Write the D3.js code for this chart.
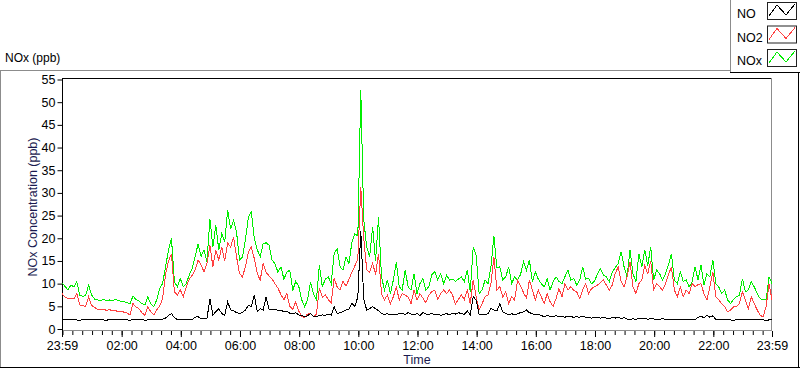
<!DOCTYPE html>
<html><head><meta charset="utf-8">
<script src="https://cdn.jsdelivr.net/npm/d3@7"></script>
<style>
body{margin:0;background:#fff;overflow:hidden}
svg{display:block}
text{font-family:"Liberation Sans",Arial,sans-serif}
</style>
</head><body>
<svg id="c" width="800" height="369"></svg>
<script>
// ---- data ----
const seriesNames = ["NO", "NO2", "NOx"];
const startTime = "2000-01-01T23:59:00";
const endTime = "2000-01-02T23:59:00";
const stepMinutes = 6;
const xTickLabels = ["23:59","02:00","04:00","06:00","08:00","10:00","12:00","14:00","16:00","18:00","20:00","22:00","23:59"];
const yTicks = [0,5,10,15,20,25,30,35,40,45,50,55];
const yTitle = "NOx Concentration (ppb)";
const xTitle = "Time";
const chartTitle = "NOx (ppb)";

const NO = [
2.2,2.0,2.1,2.0,2.1,2.0,1.9,2.1,2.0,2.2,2.0,2.1,2.0,2.1,2.0,1.9,2.1,2.0,2.1,2.0,2.0,2.1,2.0,1.9,2.1,2.0,2.0,2.1,1.9,2.0,2.1,2.0,2.1,2.0,2.2,2.4,3.0,3.4,2.5,2.1,2.0,2.1,2.0,2.1,2.0,2.6,2.7,2.3,2.2,2.3,6.7,3.1,3.8,4.5,3.4,3.0,6.0,4.2,4.0,3.6,3.4,3.6,4.2,5.2,
5.0,7.5,3.8,4.5,4.2,7.1,4.3,4.2,4.4,4.1,4.2,3.8,3.9,3.5,3.4,3.6,3.1,3.0,2.7,2.9,3.4,2.8,2.7,3.0,3.1,3.0,3.3,3.1,4.9,3.4,3.6,3.8,4.2,4.3,5.6,5.0,7.1,21.6,6.5,4.2,4.5,4.9,4.5,4.0,3.4,3.2,3.4,3.1,3.3,3.1,3.4,3.5,3.2,3.6,3.3,3.1,3.4,3.0,3.6,3.3,3.2,3.4,3.1,3.3,3.0,3.2,3.4,3.1,
3.5,3.3,3.6,3.4,3.2,4.0,3.1,7.1,6.4,3.1,3.2,3.1,3.4,4.5,4.2,4.0,5.6,3.8,3.4,3.1,3.4,3.1,3.4,3.6,3.8,4.2,3.6,3.4,3.1,3.2,3.0,2.7,3.0,2.8,2.7,3.0,2.7,2.8,2.6,2.8,2.7,2.6,2.7,2.6,2.8,2.6,2.5,2.4,2.6,2.5,2.4,2.5,2.4,2.3,2.5,2.4,2.6,2.3,2.5,2.2,2.0,2.3,2.1,2.3,
2.2,2.4,2.1,2.3,2.2,2.0,2.1,2.3,2.1,2.0,2.2,2.1,2.0,2.2,2.1,2.0,2.1,2.2,2.0,2.6,2.8,2.5,3.0,2.6,2.9,2.1,2.0,2.1,2.0,2.1,2.0,1.9,2.1,2.0,2.2,2.0,2.1,2.0,2.1,2.0,2.1,2.0,1.9,2.0,2.1
];
const NO2 = [
7.8,7.0,6.7,6.8,6.6,7.8,5.3,5.1,5.0,7.1,5.2,4.8,4.3,4.2,4.4,4.1,4.3,4.0,4.1,3.8,3.9,3.7,3.5,3.1,5.6,4.8,4.5,3.6,3.0,4.9,3.8,3.1,4.2,5.0,6.7,12.0,15.0,16.6,8.2,7.5,8.6,7.1,9.3,11.0,11.8,13.0,15.2,14.1,12.6,14.5,18.5,13.7,17.4,15.2,18.1,15.0,19.0,18.1,20.3,15.9,12.2,11.5,13.7,17.0,
18.1,15.5,12.2,10.8,14.4,12.5,11.7,11.0,10.0,9.0,7.6,6.4,7.8,5.0,4.3,6.0,4.0,2.8,2.5,3.3,3.4,2.7,3.3,9.0,7.0,7.5,6.5,5.8,11.2,9.3,8.6,10.6,9.4,11.0,12.5,13.9,15.5,31.3,20.0,13.0,12.5,14.5,12.0,16.6,7.8,6.4,7.5,5.6,7.1,9.3,6.4,7.8,7.5,7.0,5.6,8.6,6.4,7.8,6.8,5.8,7.5,8.2,8.6,6.6,7.8,8.6,7.8,8.6,
7.5,5.5,6.5,7.5,6.5,8.6,5.6,10.8,7.1,4.2,5.6,7.1,7.5,10.0,15.9,8.6,9.3,7.1,8.2,5.6,7.1,6.4,10.8,9.5,8.0,6.8,10.8,8.6,6.4,8.6,7.1,5.6,7.8,6.0,5.0,6.7,8.9,7.1,10.0,8.6,9.3,8.5,8.2,6.7,8.6,10.0,7.8,8.9,9.3,9.7,10.2,10.8,9.7,8.6,9.7,12.2,13.7,10.4,9.3,11.5,14.8,9.3,7.8,10.0,
10.8,14.0,12.2,15.0,8.6,10.0,9.3,8.6,10.0,12.0,13.7,8.6,7.1,9.3,7.1,8.6,7.8,10.0,9.3,9.8,10.0,7.8,6.4,9.3,12.6,7.1,6.4,5.6,4.9,3.8,4.2,4.9,5.0,5.6,8.2,6.4,4.5,7.1,5.6,4.2,3.0,2.7,4.9,10.0,6.4
];
const NOx = [
10.2,9.4,8.6,9.7,9.3,10.4,7.4,7.2,7.4,9.7,7.5,6.6,6.4,6.2,6.5,6.3,6.4,6.2,6.5,6.3,6.1,6.0,5.8,5.6,7.3,6.5,6.2,5.6,5.3,7.1,5.6,4.9,6.4,8.9,10.0,13.7,17.4,20.0,10.4,9.3,11.1,9.3,10.0,11.9,13.3,15.9,18.8,16.0,17.4,14.8,24.3,18.1,22.9,17.4,21.0,19.2,26.2,22.1,24.0,21.4,15.2,15.9,19.6,24.7,
25.8,20.0,17.5,15.9,18.8,19.0,18.5,15.2,14.4,12.5,13.7,11.0,12.5,13.0,8.5,10.5,9.5,6.5,4.9,6.4,10.4,7.8,6.4,14.1,9.3,11.0,11.5,10.0,16.6,17.7,13.7,13.0,15.9,14.4,19.2,21.0,20.5,52.7,24.0,18.1,15.9,22.5,15.0,24.7,11.5,8.6,10.8,7.8,10.8,14.8,9.3,8.6,13.0,9.3,8.6,12.2,7.8,10.0,11.1,8.6,9.3,12.0,12.6,10.8,12.2,10.0,11.9,10.8,
11.0,10.5,11.0,11.5,10.4,13.0,8.2,18.1,16.3,7.8,8.6,10.8,10.0,13.7,20.5,13.5,13.7,10.8,11.5,13.7,10.0,11.5,10.8,12.0,14.8,13.0,15.2,10.4,12.6,11.0,10.0,9.3,11.1,8.6,10.4,11.5,10.5,10.0,11.5,13.0,10.8,11.1,9.7,10.8,13.7,11.0,11.1,10.0,10.5,12.2,13.3,11.9,11.5,10.4,12.6,13.5,14.4,17.0,13.7,11.5,17.4,12.2,10.4,16.6,
13.7,17.4,14.0,18.1,10.8,13.0,12.2,10.8,12.2,14.1,16.6,10.8,10.0,12.6,10.5,10.8,9.3,10.4,13.7,10.8,14.1,9.7,12.2,11.5,15.2,10.0,9.3,7.8,8.6,6.4,5.6,6.5,7.1,7.5,11.1,8.2,8.6,10.4,9.3,7.8,6.7,6.4,6.4,11.5,10.0
];
const seriesColors = ["#000000", "#ff4040", "#00ee00"];

// ---- drawing ----
const svg = d3.select("#c");
const t0 = new Date(startTime), t1 = new Date(endTime);
const x = d3.scaleTime().domain([t0, t1]).range([62, 772]);
const y = d3.scaleLinear().domain([0, 55]).range([329, 79.5]);

// outer frame
svg.append("line").attr("x1",0).attr("x2",730).attr("y1",70.5).attr("y2",70.5).attr("stroke","#8c8c8c");
svg.append("line").attr("x1",0.5).attr("x2",0.5).attr("y1",70).attr("y2",368).attr("stroke","#8c8c8c");
svg.append("line").attr("x1",0).attr("x2",800).attr("y1",367.5).attr("y2",367.5).attr("stroke","#000");
svg.append("line").attr("x1",798.5).attr("x2",798.5).attr("y1",72).attr("y2",368).attr("stroke","#000");

// title
svg.append("text").attr("x",5).attr("y",62).attr("font-size",12).attr("fill","#000").text(chartTitle);

// legend box
svg.append("line").attr("x1",730.5).attr("x2",730.5).attr("y1",0).attr("y2",72).attr("stroke","#8c8c8c");
svg.append("line").attr("x1",730).attr("x2",800).attr("y1",72.5).attr("y2",72.5).attr("stroke","#000");
seriesNames.forEach((name, i) => {
  const g = svg.append("g").attr("transform", `translate(0,${i*23.5})`);
  g.append("text").attr("x",737).attr("y",18).attr("font-size",12.5).attr("fill","#000").text(name);
  g.append("rect").attr("x",767.5).attr("y",2.5).attr("width",29).attr("height",17)
    .attr("fill","#fff").attr("stroke","#222");
  g.append("polyline").attr("points","769,16 777,5 786,15 795,4")
    .attr("fill","none").attr("stroke",seriesColors[i]).attr("stroke-width",1)
    .attr("shape-rendering","crispEdges");
});

// plot borders
svg.append("line").attr("x1",62).attr("x2",772).attr("y1",78.5).attr("y2",78.5).attr("stroke","#000");
svg.append("line").attr("x1",771.5).attr("x2",771.5).attr("y1",78).attr("y2",331).attr("stroke","#8c8c8c");
svg.append("line").attr("x1",62).attr("x2",772).attr("y1",330.5).attr("y2",330.5).attr("stroke","#8c8c8c");

// y axis
const yAxis = d3.axisLeft(y).tickValues(yTicks).tickSize(5).tickPadding(2).tickFormat(d3.format("d"));
const gy = svg.append("g").attr("transform","translate(62.5,0)").call(yAxis);
gy.select(".domain").attr("d","M0,78V331").attr("stroke","#000");
gy.selectAll(".tick line").attr("stroke","#000");
gy.selectAll(".tick text").attr("font-size",12.5).attr("fill","#000").attr("font-family","Liberation Sans, Arial, sans-serif");

// x axis: minor ticks every 20 minutes
const minorTicks = d3.timeMinute.every(20).range(t0, t1);
const gxMinor = svg.append("g").attr("transform","translate(0,331)")
  .call(d3.axisBottom(x).tickValues(minorTicks).tickSize(4).tickFormat(""));
gxMinor.select(".domain").remove();
gxMinor.selectAll(".tick line").attr("stroke","#000");

// x axis: major ticks with labels
const parseHM = d3.timeParse("%Y-%m-%d %H:%M");
const majorTicks = xTickLabels.map((lab, i) => {
  if (i === 0) return t0;
  if (i === xTickLabels.length - 1) return t1;
  return parseHM("2000-01-02 " + lab);
});
const gx = svg.append("g").attr("transform","translate(0,331)")
  .call(d3.axisBottom(x).tickValues(majorTicks).tickSize(6).tickPadding(4)
    .tickFormat((d, i) => xTickLabels[i]));
gx.select(".domain").remove();
gx.selectAll(".tick line").attr("stroke","#000");
gx.selectAll(".tick text").attr("font-size",12.5).attr("fill","#000").attr("font-family","Liberation Sans, Arial, sans-serif");

// axis titles
svg.append("text").attr("x",417).attr("y",364).attr("text-anchor","middle")
  .attr("font-size",12.5).attr("fill","#1a1a50").text(xTitle);
svg.append("text").attr("transform","translate(37,207) rotate(-90)").attr("text-anchor","middle")
  .attr("font-size",12.5).attr("fill","#1a1a50").text(yTitle);

// series lines
const timeOf = i => d3.timeMinute.offset(t0, i * stepMinutes);
const line = d3.line().x((d, i) => x(timeOf(i))).y(d => y(d));
[[NOx, seriesColors[2]], [NO2, seriesColors[1]], [NO, seriesColors[0]]].forEach(([data, col]) => {
  svg.append("path").datum(data).attr("d", line)
    .attr("fill","none").attr("stroke",col).attr("stroke-width",1)
    .attr("shape-rendering","crispEdges");
});
</script>
</body></html>
